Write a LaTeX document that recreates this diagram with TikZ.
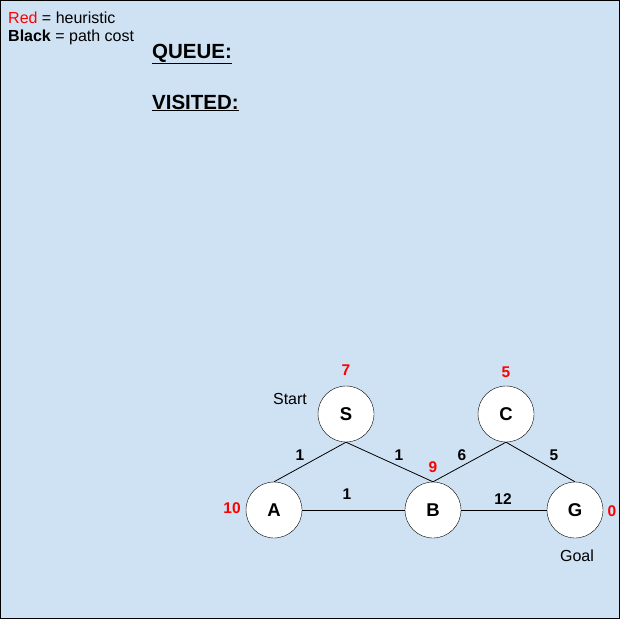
\documentclass[tikz,border=0pt]{standalone}
\usepackage{fontspec}
\setmainfont{Liberation Sans}
\definecolor{bgblue}{HTML}{CFE2F3}
\definecolor{hred}{HTML}{FF0000}
\begin{document}
\begin{tikzpicture}[x=1pt,y=-1pt,
  vertex/.style={circle,draw=black,fill=white,minimum size=56pt,inner sep=0pt,font=\fontsize{18.5}{20}\selectfont\bfseries},
  heur/.style={text=hred,font=\fontsize{15.5}{17}\selectfont\bfseries,inner sep=0pt},
  cost/.style={text=black,font=\fontsize{15.5}{17}\selectfont\bfseries,inner sep=0pt},
  plain/.style={font=\fontsize{16}{18}\selectfont,inner sep=0pt},
  title/.style={font=\fontsize{20.5}{24}\selectfont\bfseries,inner sep=0pt,anchor=west},
  edge/.style={draw=black,line width=0.8pt}]
\useasboundingbox (0,0) rectangle (623,620);
\draw[fill=bgblue,draw=black,line width=1.2pt] (0.6,0.6) rectangle (619.5,618.5);
% legend
\node[plain,anchor=west] (leg1) at (8,18) {\textcolor{hred}{Red} = heuristic};
\node[plain,anchor=west] (leg2) at (8,37) {\textbf{Black} = path cost};
\node[title] (queue) at (152,54) {\underline{QUEUE:}};
\node[title] (visited) at (152,103) {\underline{VISITED:}};
% vertices
\node[vertex] (S) at (346,414) {S};
\node[vertex] (C) at (506,414) {C};
\node[vertex] (A) at (274,510) {A};
\node[vertex] (B) at (433,510) {B};
\node[vertex] (G) at (575,510) {G};
% edges
\draw[edge] (S.south) -- (A.north);
\draw[edge] (S.south) -- (B.north);
\draw[edge] (C.south) -- (B.north);
\draw[edge] (C.south) -- (G.north);
\draw[edge] (A.east) -- (B.west);
\draw[edge] (B.east) -- (G.west);
% heuristics
\node[heur] (hS) at (346,370) {7};
\node[heur] (hC) at (506,372) {5};
\node[heur] (hB) at (433,467) {9};
\node[heur] (hA) at (232,508) {10};
\node[heur] (hG) at (612,511) {0};
% costs
\node[cost] (cSA) at (300,455) {1};
\node[cost] (cSB) at (399,455) {1};
\node[cost] (cCB) at (462,455) {6};
\node[cost] (cCG) at (554,455) {5};
\node[cost] (cAB) at (347,494) {1};
\node[cost] (cBG) at (503,499) {12};
% extra labels
\node[plain] (start) at (290,399) {Start};
\node[plain] (goal) at (577,556) {Goal};
\end{tikzpicture}
\end{document}
